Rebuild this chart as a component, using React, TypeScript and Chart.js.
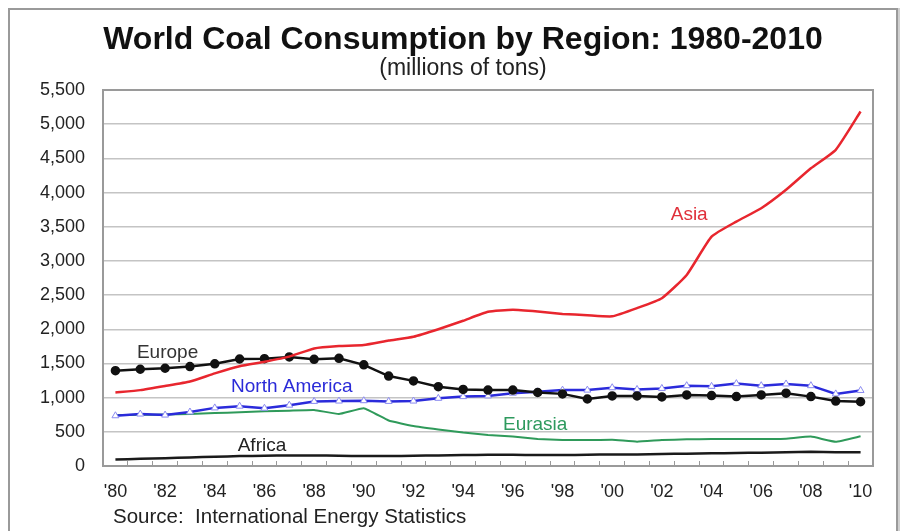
import React, { useEffect, useRef } from "react";
import { Chart, registerables } from "chart.js";

Chart.register(...registerables);

const years = [
  1980, 1981, 1982, 1983, 1984, 1985, 1986, 1987, 1988, 1989,
  1990, 1991, 1992, 1993, 1994, 1995, 1996, 1997, 1998, 1999,
  2000, 2001, 2002, 2003, 2004, 2005, 2006, 2007, 2008, 2009, 2010,
];

const asia = [
  1075, 1110, 1170, 1235, 1355, 1460, 1525, 1600, 1720, 1755,
  1770, 1835, 1890, 2000, 2125, 2255, 2285, 2260, 2225, 2205,
  2190, 2310, 2455, 2795, 3355, 3575, 3770, 4040, 4355, 4625, 5185,
];

const europe = [
  1395, 1415, 1430, 1455, 1495, 1565, 1570, 1595, 1560, 1575,
  1480, 1315, 1245, 1160, 1120, 1110, 1110, 1075, 1055, 980,
  1025, 1025, 1010, 1040, 1030, 1015, 1040, 1065, 1015, 950, 940,
];

const northAmerica = [
  735, 760, 745, 790, 850, 875, 845, 890, 945, 950,
  955, 945, 950, 990, 1015, 1025, 1065, 1085, 1110, 1110,
  1145, 1120, 1135, 1175, 1165, 1205, 1175, 1200, 1175, 1055, 1105,
];

const eurasia = [
  745, 748, 752, 760, 775, 785, 800, 810, 820, 760,
  845, 665, 585, 535, 490, 455, 430, 395, 380, 380,
  385, 355, 380, 390, 395, 395, 395, 400, 430, 355, 435,
];

const africa = [
  95, 105, 115, 125, 135, 145, 150, 155, 155, 150,
  145, 145, 150, 155, 160, 165, 165, 160, 160, 165,
  170, 170, 175, 180, 185, 190, 195, 200, 210, 200, 200,
];

const yTicksMax = 5500;
const yTickStep = 500;

const seriesNames = ["Asia", "Europe", "North America", "Eurasia", "Africa"];

const titleText = "World Coal Consumption by Region: 1980-2010";
const subtitleText = "(millions of tons)";
const sourceText = "Source:  International Energy Statistics";

const FONT = "'Liberation Sans', Arial, Helvetica, sans-serif";

export default function App() {
  const ref = useRef<HTMLCanvasElement>(null);

  useEffect(() => {
    if (!ref.current) return;

    const labelSpecs = [
      { text: seriesNames[0], at: 23.1, value: 3670, color: "#e0303a" },
      { text: seriesNames[1], at: 2.1, value: 1655, color: "#333333" },
      { text: seriesNames[2], at: 7.1, value: 1160, color: "#2a2ad8" },
      { text: seriesNames[3], at: 16.9, value: 600, color: "#2e9a5e" },
      { text: seriesNames[4], at: 5.9, value: 295, color: "#222222" },
    ];

    const annotPlugin = {
      id: "annot",
      afterDatasetsDraw(chart: any) {
        const ctx = chart.ctx;
        const xs = chart.scales.x;
        const ys = chart.scales.y;
        ctx.save();
        ctx.font = `19px ${FONT}`;
        ctx.textAlign = "center";
        ctx.textBaseline = "middle";
        labelSpecs.forEach((l) => {
          ctx.fillStyle = l.color;
          ctx.fillText(l.text, xs.getPixelForValue(l.at), ys.getPixelForValue(l.value));
        });
        ctx.restore();
      },
    };

    const framePlugin = {
      id: "frame",
      beforeDatasetsDraw(chart: any) {
        const { ctx, chartArea } = chart;
        ctx.save();
        ctx.strokeStyle = "#9a9a9a";
        ctx.lineWidth = 2;
        ctx.strokeRect(chartArea.left, chartArea.top, chartArea.right - chartArea.left, chartArea.bottom - chartArea.top);
        ctx.restore();
      },
      afterDraw(chart: any) {
        const { ctx, chartArea } = chart;
        const cx = chart.width / 2 + 10;
        ctx.save();
        ctx.textAlign = "center";
        ctx.textBaseline = "middle";
        ctx.fillStyle = "#111";
        ctx.font = `bold 32px ${FONT}`;
        ctx.fillText(titleText, cx, chartArea.top - 50);
        ctx.fillStyle = "#222";
        ctx.font = `23px ${FONT}`;
        ctx.fillText(subtitleText, cx, chartArea.top - 21);
        ctx.font = `20.5px ${FONT}`;
        ctx.textAlign = "left";
        ctx.fillText(sourceText, chartArea.left + 10, chartArea.bottom + 51);
        ctx.restore();
      },
    };

    const chart = new Chart(ref.current, {
      type: "line",
      data: {
        labels: years.map(String),
        datasets: [
          {
            label: seriesNames[0],
            data: asia,
            borderColor: "#e8262e",
            borderWidth: 2.5,
            pointRadius: 0,
            tension: 0.15,
          },
          {
            label: seriesNames[1],
            data: europe,
            borderColor: "#111111",
            backgroundColor: "#111111",
            borderWidth: 2.5,
            pointRadius: 3.5,
            pointStyle: "circle",
            tension: 0,
          },
          {
            label: seriesNames[2],
            data: northAmerica,
            borderColor: "#2b2bdb",
            borderWidth: 2.5,
            pointRadius: 4,
            pointStyle: "triangle",
            pointBackgroundColor: "#ffffff",
            pointBorderColor: "#8a8af0",
            pointBorderWidth: 1,
            tension: 0,
          },
          {
            label: seriesNames[3],
            data: eurasia,
            borderColor: "#2f9a5a",
            borderWidth: 2,
            pointRadius: 0,
            tension: 0.1,
          },
          {
            label: seriesNames[4],
            data: africa,
            borderColor: "#1a1a1a",
            borderWidth: 2.5,
            pointRadius: 0,
            tension: 0.1,
          },
        ],
      },
      options: {
        animation: false,
        responsive: false,
        maintainAspectRatio: false,
        layout: { padding: { left: 0, right: 23, top: 80, bottom: 0 } },
        plugins: {
          legend: { display: false },
          tooltip: { enabled: false },
          title: { display: false },
          subtitle: { display: false },
        },
        scales: {
          x: {
            offset: true,
            grid: {
              display: true,
              offset: true,
              drawOnChartArea: false,
              drawTicks: true,
              tickLength: -5,
              color: "#999",
              lineWidth: 1,
            },
            border: { display: false },
            ticks: {
              autoSkip: false,
              maxRotation: 0,
              minRotation: 0,
              padding: 20,
              color: "#222",
              font: { size: 18, family: FONT },
              callback: (_v: any, i: number) =>
                years[i] % 2 === 0 ? "'" + String(years[i]).slice(2) : "",
            },
            afterFit: (s: any) => {
              s.height = 65;
            },
          },
          y: {
            min: 0,
            max: yTicksMax,
            grid: { color: "#c4c4c4", lineWidth: 1.5, drawTicks: false },
            border: { display: false },
            ticks: {
              stepSize: yTickStep,
              padding: 18,
              color: "#222",
              font: { size: 18, family: FONT },
              callback: (v: any) => Number(v).toLocaleString("en-US"),
            },
            afterFit: (s: any) => {
              s.width = 93;
            },
          },
        },
      },
      plugins: [annotPlugin, framePlugin],
    } as any);

    return () => chart.destroy();
  }, []);

  return (
    <div
      style={{
        position: "fixed",
        left: 8,
        top: 8,
        width: 886,
        height: 523,
        border: "2px solid #9a9a9a",
        borderBottom: "none",
        boxShadow: "2px 0 0 #d0d0d0",
        background: "#fff",
        overflow: "hidden",
      }}
    >
      <canvas ref={ref} width={886} height={521} style={{ display: "block" }} />
    </div>
  );
}
